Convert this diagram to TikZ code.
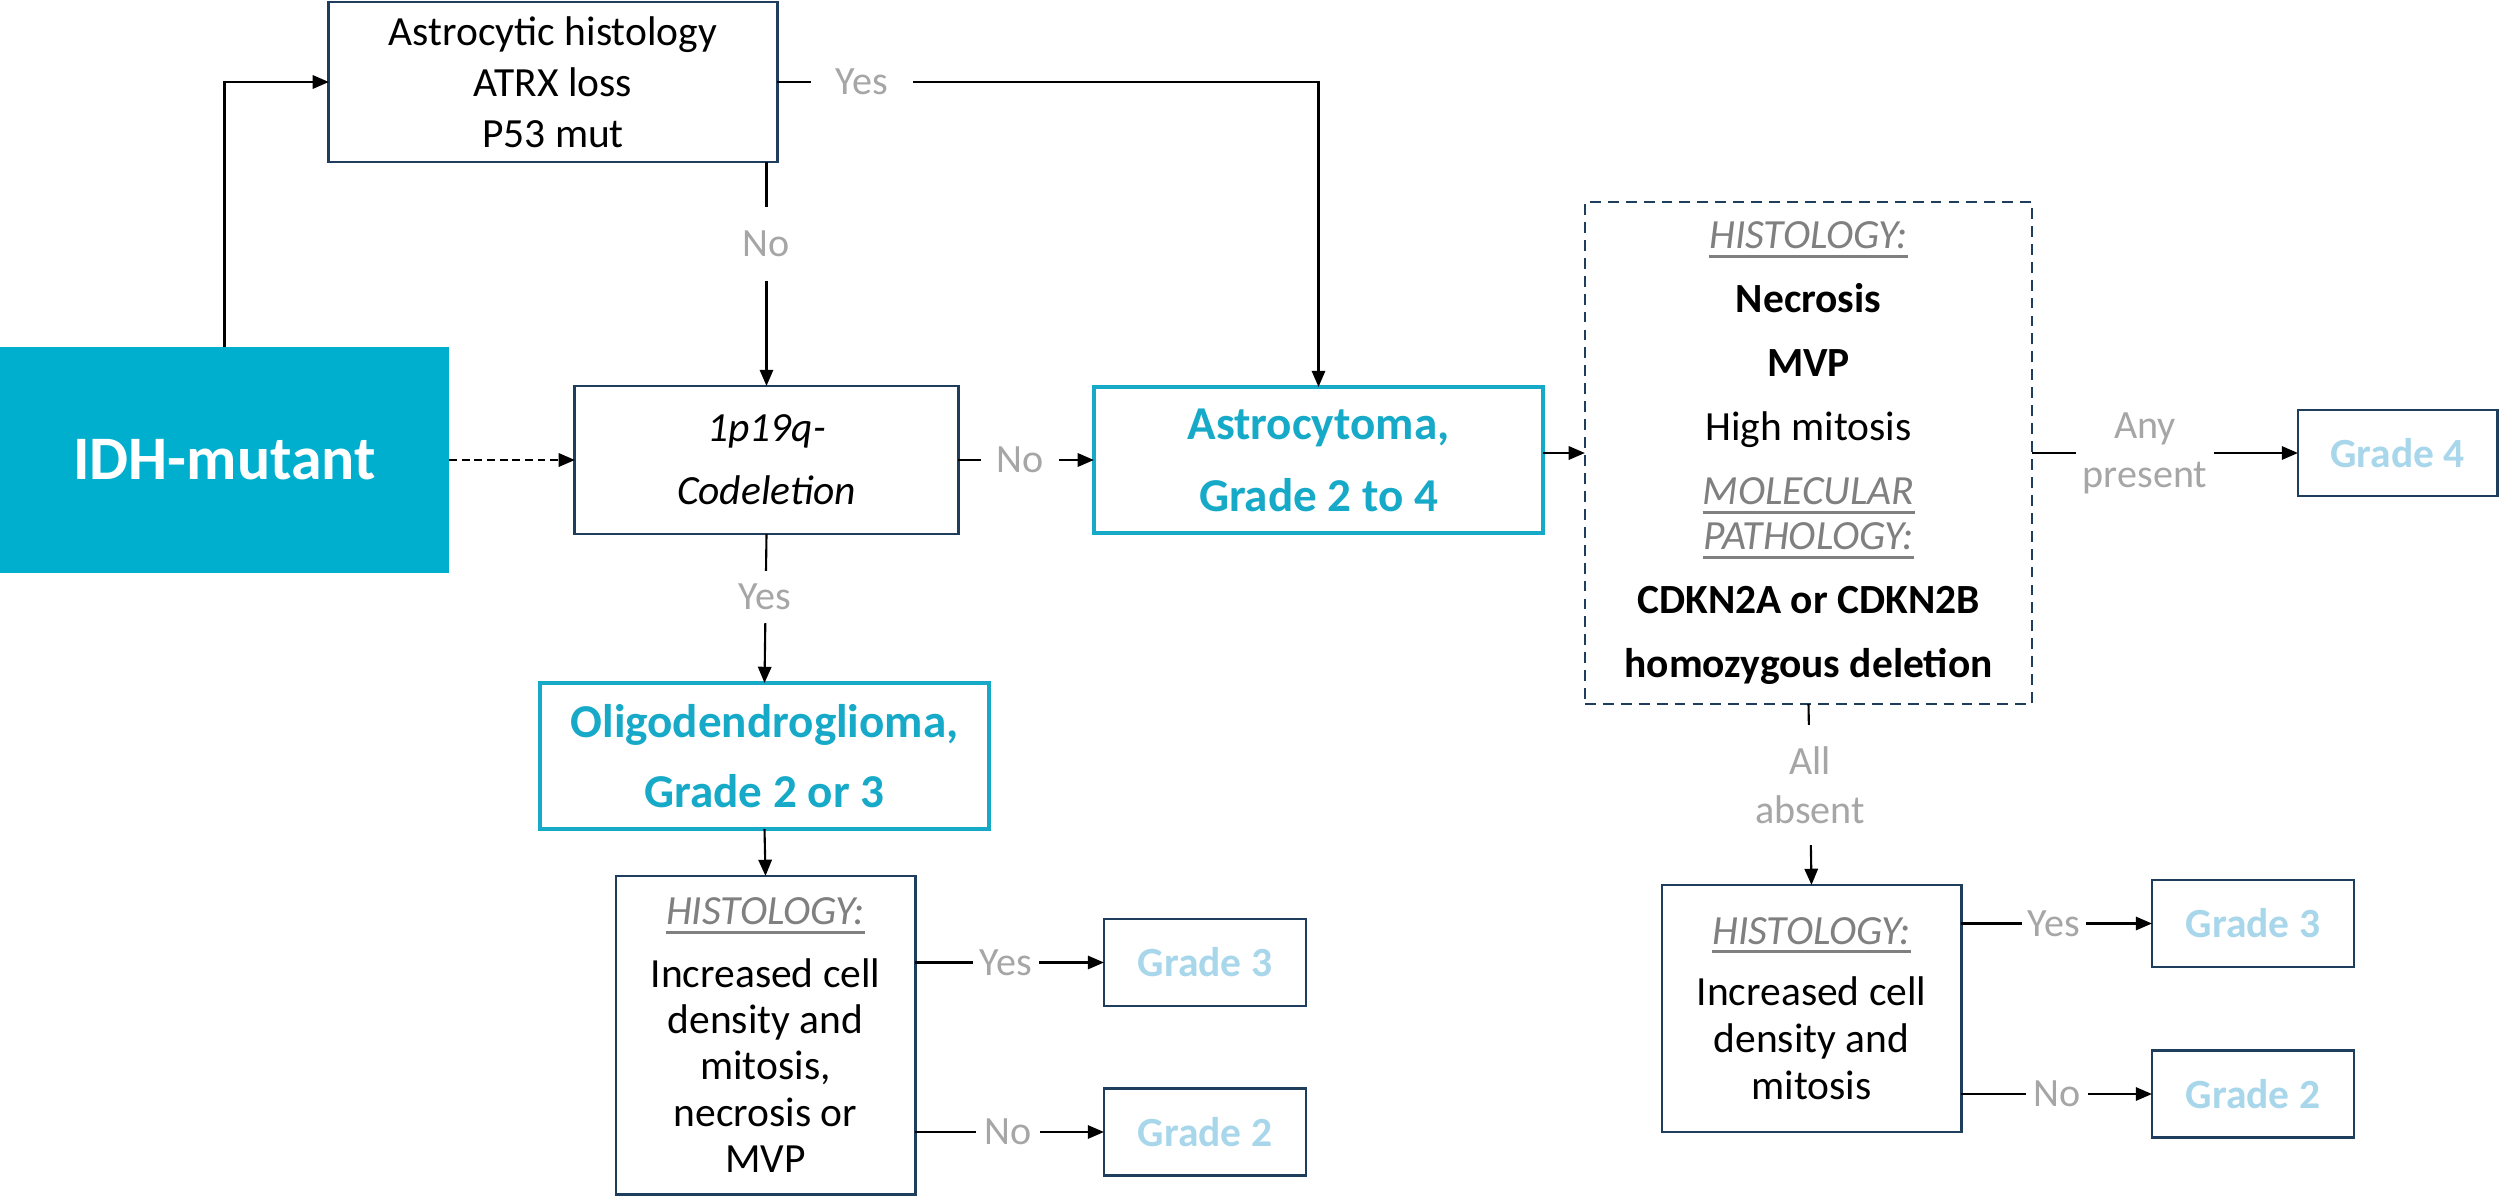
\documentclass[tikz,border=0pt]{standalone}
\usepackage{fontspec}
\setmainfont{Carlito}
\usetikzlibrary{arrows.meta}
\definecolor{tealfill}{RGB}{0,174,206}
\definecolor{tealtxt}{RGB}{22,170,200}
\definecolor{navy}{RGB}{31,61,92}
\definecolor{lblgrey}{RGB}{166,166,166}
\definecolor{hgrey}{RGB}{128,128,128}
\definecolor{gradetxt}{RGB}{168,214,234}
\newcommand\ulgrey[1]{{\color{hgrey}\setbox0\hbox{\itshape #1}\rlap{\rule[-2.6pt]{\wd0}{0.8pt}}\box0}}
\begin{document}
\begin{tikzpicture}[x=0.01cm,y=-0.01cm,
  box/.style={draw=navy, line width=0.8pt, inner sep=0pt, outer sep=0pt, align=center, fill=white},
  tealbox/.style={draw=tealtxt, line width=1.3pt, inner sep=0pt, outer sep=0pt, align=center, fill=white, text=tealtxt},
  gradebox/.style={box, text=gradetxt, font=\fontsize{11.8pt}{14pt}\selectfont\bfseries, minimum width=2.02cm, minimum height=0.87cm},
  lbl/.style={fill=white, text=lblgrey, font=\fontsize{11.4pt}{13.9pt}\selectfont, inner sep=0pt, align=center},
  conn/.style={line width=0.6pt, -{Triangle[length=4.6pt,width=3.8pt]}}
]
\useasboundingbox (0,0) rectangle (2500,1197);

% nodes
\node[fill=tealfill, minimum width=4.49cm, minimum height=2.25cm, inner sep=0pt, outer sep=0pt, text=white, font=\fontsize{17.6pt}{20pt}\selectfont\bfseries] (idh) at (224.5,460) {IDH-mutant};
\node[box, minimum width=4.48cm, minimum height=1.60cm, font=\fontsize{11.8pt}{14.5pt}\selectfont] (top) at (553,82) {Astrocytic histology\\ATRX loss\\P53 mut};
\node[box, minimum width=3.83cm, minimum height=1.48cm, font=\fontsize{11.8pt}{17.9pt}\selectfont\itshape] (codel) at (766.5,460) {1p19q-\\Codeletion};
\node[tealbox, minimum width=4.49cm, minimum height=1.46cm, font=\fontsize{13.4pt}{20.5pt}\selectfont\bfseries] (astro) at (1318.5,460) {Astrocytoma,\\Grade 2 to 4};
\node[tealbox, minimum width=4.49cm, minimum height=1.46cm, font=\fontsize{13.4pt}{19.9pt}\selectfont\bfseries] (oligo) at (764.5,756) {Oligodendroglioma,\\Grade 2 or 3};
\node[box, minimum width=2.99cm, minimum height=3.18cm, font=\fontsize{11.8pt}{13.1pt}\selectfont] (lhist) at (765.5,1035) {\ulgrey{HISTOLOGY:}\\[4.8pt]Increased cell\\density and\\mitosis,\\necrosis or\\MVP};
\node[gradebox] (g3l) at (1205,962.5) {Grade 3};
\node[gradebox] (g2l) at (1205,1132) {Grade 2};
\node[box, line width=0.6pt, dash pattern=on 3.1pt off 2pt, minimum width=4.47cm, minimum height=5.02cm, font=\fontsize{11.8pt}{18.2pt}\selectfont] (dbox) at (1808.5,453) {\ulgrey{HISTOLOGY:}\\\textbf{Necrosis}\\\textbf{MVP}\\High mitosis\\\ulgrey{MOLECULAR}\\[-5.4pt]\ulgrey{PATHOLOGY:}\\\textbf{CDKN2A or CDKN2B}\\\textbf{homozygous deletion}};
\node[gradebox, minimum width=1.99cm, minimum height=0.86cm] (g4) at (2397.5,453) {Grade 4};
\node[box, minimum width=2.99cm, minimum height=2.47cm, font=\fontsize{11.8pt}{13.4pt}\selectfont] (rhist) at (1811.5,1008.5) {\ulgrey{HISTOLOGY:}\\[4.0pt]Increased cell\\density and\\mitosis};
\node[gradebox] (g3r) at (2253,923.5) {Grade 3};
\node[gradebox] (g2r) at (2253,1094) {Grade 2};

% connectors
\draw[conn] (idh.north) |- (top.west);
\draw[conn] (top.east) -| (astro.north);
\node[lbl, inner xsep=7pt, inner ysep=2pt] (lyes1) at (862,82) {Yes};
\draw[conn] (top.south -| codel.north) -- (codel.north);
\node[lbl, inner xsep=2pt, inner ysep=6.8pt] (lno1) at (766,244) {No};
\draw[conn, dash pattern=on 2.2pt off 1.4pt] (idh.east) -- (codel.west);
\draw[conn] (codel.east) -- (astro.west);
\node[lbl, inner xsep=4.5pt, inner ysep=2pt] (lno2) at (1020,460) {No};
\draw[conn] (codel.south) -- (oligo.north);
\node[lbl, inner xsep=2pt, inner ysep=3.8pt] (lyes2) at (765,597) {Yes};
\draw[conn] (oligo.south) -- (lhist.north);
\draw[conn] (g3l.west -| lhist.east) -- (g3l.west);
\node[lbl, inner xsep=2pt, inner ysep=2pt] (lyes3) at (1006,962.5) {Yes};
\draw[conn] (g2l.west -| lhist.east) -- (g2l.west);
\node[lbl, inner xsep=2.3pt, inner ysep=2pt] (lno3) at (1008,1132) {No};
\draw[conn] (dbox.west -| astro.east) -- (dbox.west);
\draw[conn] (dbox.east) -- (g4.west);
\node[lbl, inner xsep=2pt, inner ysep=0pt] (lany) at (2145,453) {Any\\present};
\draw[conn] (dbox.south) -- (rhist.north);
\node[lbl, inner xsep=2pt, inner ysep=6pt] (lall) at (1810,785) {All\\absent};
\draw[conn] (g3r.west -| rhist.east) -- (g3r.west);
\node[lbl, inner xsep=1.7pt, inner ysep=2pt] (lyes4) at (2054,923.5) {Yes};
\draw[conn] (g2r.west -| rhist.east) -- (g2r.west);
\node[lbl, inner xsep=2pt, inner ysep=2pt] (lno4) at (2057,1094) {No};
\end{tikzpicture}
\end{document}
